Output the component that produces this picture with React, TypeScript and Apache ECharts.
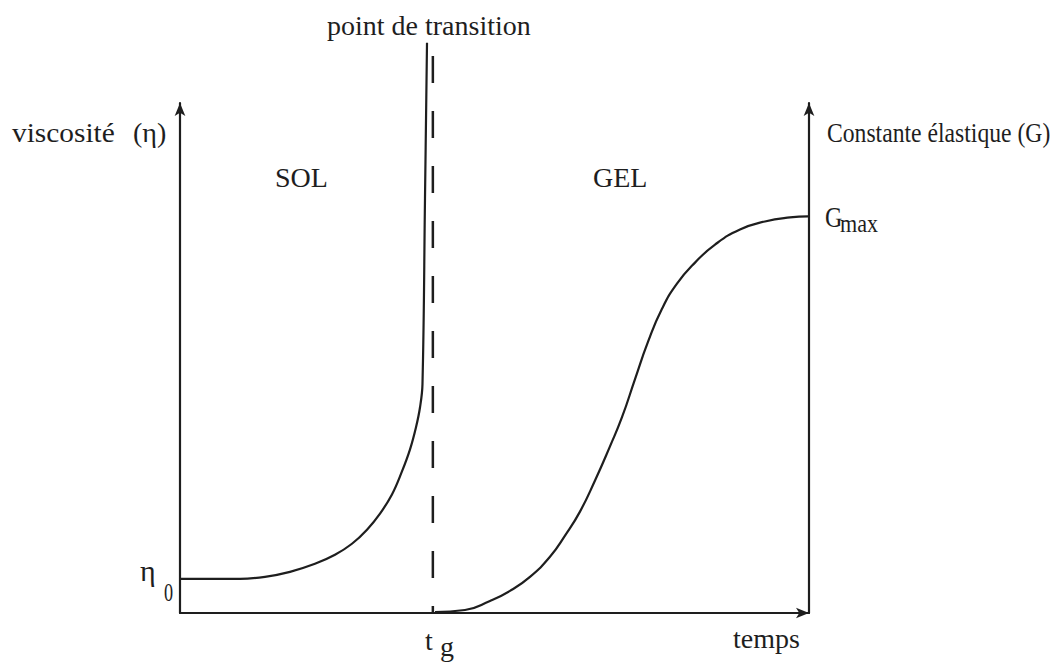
import React, { useEffect, useRef } from "react";
import * as echarts from "echarts";

// Time axis runs 0..100 (arbitrary units), value axes 0..100 (arbitrary units)
const viscTime = [0, 9.54, 13.51, 17.49, 21.46, 24.64, 27.34, 29.73, 31.8, 33.7, 35.29, 36.57, 37.52, 38.16, 38.55, 38.95, 39.27];
const viscValue = [6.69, 6.69, 7.09, 8.07, 9.65, 11.42, 13.58, 16.34, 19.49, 23.23, 27.76, 32.09, 36.42, 40.35, 44.88, 81.3, 111.8];

const gTime = [40.54, 45.31, 49.28, 52.46, 55.64, 58.82, 61.21, 63.59, 65.98, 68.36, 70.27, 72.34, 74.4, 76.63, 79.01, 81.88, 85.06, 89.03, 93.0, 96.98, 99.84];
const gValue = [0.2, 0.59, 2.36, 4.33, 7.09, 11.02, 15.16, 19.88, 25.98, 32.68, 38.39, 45.87, 53.15, 59.65, 64.57, 68.7, 72.24, 75.2, 76.77, 77.56, 77.76];

const transitionTime = 40.2;
const transitionTop = 112;

const zip = (xs: number[], ys: number[]) => xs.map((x, i) => [x, ys[i]]);

export default function App() {
  const ref = useRef<HTMLDivElement>(null);
  useEffect(() => {
    const chart = echarts.init(ref.current!, null, { renderer: "svg" });
    const ink = "#1e1e1e";
    const fnt = (s: number) => `${s}px "Liberation Serif", "Times New Roman", serif`;
    const txt = (text: string, x: number, baseline: number, size: number, extra: any = {}) => ({
      type: "text",
      x,
      y: baseline - 0.34 * size,
      style: { text, font: fnt(size), fill: ink, verticalAlign: "middle", align: "left" },
      ...extra,
    });
    const axisLine = () => ({
      show: true,
      symbol: ["none", "arrow"],
      symbolSize: [8, 13],
      lineStyle: { color: ink, width: 2.2 },
    });
    const valueAxis = (extra: any) => ({
      type: "value",
      min: 0,
      max: 100,
      axisLine: axisLine(),
      axisTick: { show: false },
      axisLabel: { show: false },
      splitLine: { show: false },
      ...extra,
    });
    chart.setOption({
      animation: false,
      backgroundColor: "#fff",
      grid: { left: 180, right: 250, top: 103, bottom: 49 },
      xAxis: valueAxis({}),
      yAxis: [valueAxis({ position: "left" }), valueAxis({ position: "right" })],
      series: [
        {
          type: "line",
          name: "viscosité",
          data: zip(viscTime, viscValue),
          symbol: "none",
          clip: false,
          smooth: 0.4,
          lineStyle: { color: ink, width: 2.2 },
        },
        {
          type: "line",
          name: "transition",
          data: [
            [transitionTime, 0],
            [transitionTime, transitionTop],
          ],
          symbol: "none",
          clip: false,
          lineStyle: { color: ink, width: 2.5, type: [27, 28], dashOffset: 20 },
        },
        {
          type: "line",
          name: "G",
          data: zip(gTime, gValue),
          symbol: "none",
          clip: false,
          smooth: 0.5,
          lineStyle: { color: ink, width: 2.2 },
        },
      ],
      graphic: [
        txt("point de transition", 327, 35, 28),
        txt("viscosité", 12, 142, 28, { scaleX: 1.05 }),
        txt("(η)", 133, 142, 28),
        txt("SOL", 275, 187, 28),
        txt("GEL", 593, 187, 28),
        txt("Constante élastique (G)", 827, 142, 28, { scaleX: 0.845 }),
        txt("G", 825, 227, 30, { scaleX: 0.8 }),
        txt("max", 840, 232, 26, { scaleX: 0.85 }),
        txt("η", 140, 581, 30),
        txt("0", 164, 601, 26, { scaleX: 0.7 }),
        txt("t", 425, 650, 28),
        txt("g", 440, 656, 28),
        txt("temps", 733, 648, 28),
      ],
    });
    return () => chart.dispose();
  }, []);
  return (
    <div
      ref={ref}
      style={{ position: "fixed", left: 0, top: 0, width: 1059, height: 662, background: "#fff" }}
    />
  );
}
